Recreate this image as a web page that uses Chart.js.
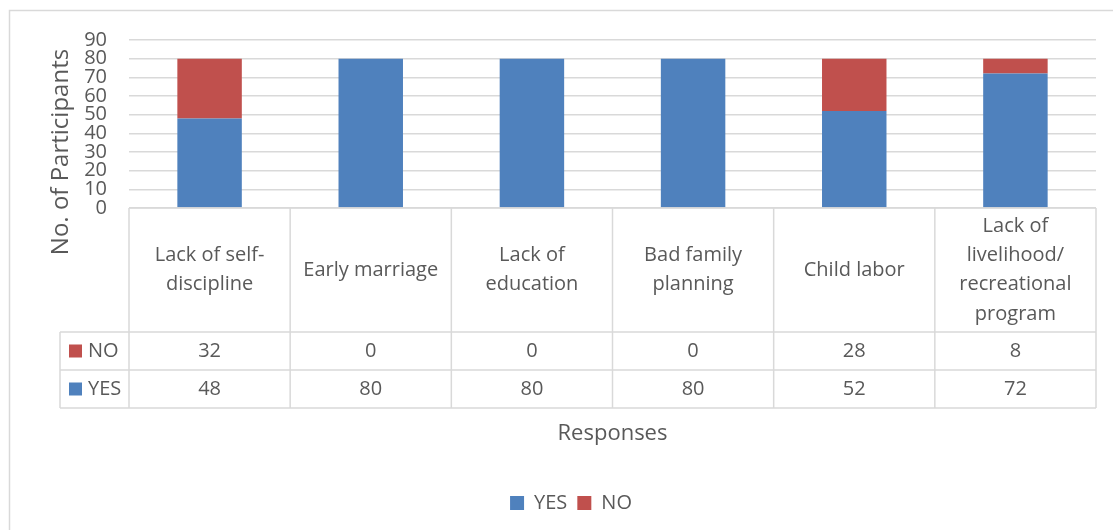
<!DOCTYPE html>
<html>
<head>
<meta charset="utf-8">
<script src="https://cdn.jsdelivr.net/npm/chart.js@4"></script>
<style>
  html, body { margin: 0; padding: 0; background: #fff; }
  #wrap { width: 1113px; height: 530px; }
</style>
</head>
<body>
<div id="wrap"><canvas id="chart"></canvas></div>
<script>
// categories (wrapped the way they show in the data table)
const categories = [
  ['Lack of self-', 'discipline'],
  ['Early marriage'],
  ['Lack of', 'education'],
  ['Bad family', 'planning'],
  ['Child labor'],
  ['Lack of', 'livelihood/', 'recreational', 'program']
];
const yesValues = [48, 80, 80, 80, 52, 72];
const noValues = [32, 0, 0, 0, 28, 8];
const yTicks = [0, 10, 20, 30, 40, 50, 60, 70, 80, 90];

const blue = '#4f81bd';
const red = '#c0504d';
const textColor = '#595959';
const lineColor = '#d9d9d9';
const fontFamily = '"Open Sans", sans-serif';

// frame, y title and the data table under the plot
const tablePlugin = {
  id: 'dataTable',
  beforeDraw(chart) {
    const c = chart.ctx;
    c.save();
    c.fillStyle = '#fff';
    c.fillRect(0, 0, chart.width, chart.height);
    c.strokeStyle = lineColor;
    c.lineWidth = 1.5;
    c.strokeRect(9.5, 10.5, 1120, 540);
    c.restore();
  },
  afterDraw(chart) {
    const c = chart.ctx;
    const x = chart.scales.x;
    const area = chart.chartArea;
    const colW = x.getPixelForValue(1) - x.getPixelForValue(0);
    const left = x.getPixelForValue(0) - colW / 2;
    const right = x.getPixelForValue(categories.length - 1) + colW / 2;
    const top = area.bottom;
    const headBottom = 332;
    const rowH = 38;
    const keyLeft = 60;

    c.save();
    c.strokeStyle = lineColor;
    c.lineWidth = 1.5;
    c.beginPath();
    c.moveTo(left, top); c.lineTo(right, top);
    for (let r = 0; r < 3; r++) {
      const yy = headBottom + r * rowH;
      c.moveTo(keyLeft, yy); c.lineTo(right, yy);
    }
    c.moveTo(keyLeft, headBottom); c.lineTo(keyLeft, headBottom + 2 * rowH);
    for (let i = 0; i <= categories.length; i++) {
      const xx = left + i * colW;
      c.moveTo(xx, top); c.lineTo(xx, headBottom + 2 * rowH);
    }
    c.stroke();

    c.fillStyle = textColor;
    c.font = '20px ' + fontFamily;
    c.textAlign = 'center';
    c.textBaseline = 'middle';
    const lh = 29.3;
    const headMid = (top + headBottom) / 2;
    categories.forEach((lines, i) => {
      const cx = x.getPixelForValue(i);
      const y0 = headMid - (lines.length - 1) * lh / 2;
      lines.forEach((t, j) => c.fillText(t, cx, y0 + j * lh));
      c.fillText(String(noValues[i]), cx, headBottom + rowH / 2);
      c.fillText(String(yesValues[i]), cx, headBottom + rowH * 1.5);
    });

    // series keys
    const keys = [['NO', red], ['YES', blue]];
    keys.forEach((k, r) => {
      const cy = headBottom + rowH * (r + 0.5);
      c.fillStyle = k[1];
      c.fillRect(69, cy - 6.5, 13, 13);
      c.fillStyle = textColor;
      c.textAlign = 'left';
      c.fillText(k[0], 88, cy);
    });

    // y axis title
    c.translate(61, 152);
    c.rotate(-Math.PI / 2);
    c.textAlign = 'center';
    c.font = '24px ' + fontFamily;
    c.fillText('No. of Participants', 0, 0);
    c.restore();
  }
};

const ctx = document.getElementById('chart').getContext('2d');
const chart = new Chart(ctx, {
  type: 'bar',
  data: {
    labels: categories.map(l => l.join(' ')),
    datasets: [{
      label: 'YES',
      data: yesValues,
      backgroundColor: blue,
      barPercentage: 0.4,
      categoryPercentage: 1
    },
    {
      label: 'NO',
      data: noValues,
      backgroundColor: red,
      barPercentage: 0.4,
      categoryPercentage: 1
    }]
  },
  options: {
    responsive: true,
    maintainAspectRatio: false,
    animation: false,
    layout: {
      padding: { top: 40, right: 17, bottom: 7, left: 46 }
    },
    plugins: {
      tooltip: { enabled: false },
      legend: {
        position: 'bottom',
        labels: {
          color: textColor,
          font: { size: 20, family: fontFamily },
          boxWidth: 14,
          boxHeight: 14,
          padding: 10
        }
      }
    },
    scales: {
      x: {
        stacked: true,
        grid: { display: false },
        border: { display: false },
        ticks: { display: false },
        title: {
          display: true,
          text: 'Responses',
          color: textColor,
          font: { size: 22, family: fontFamily },
          padding: { top: 0, bottom: 36 }
        },
        afterFit(s) { s.height = 275; }
      },
      y: {
        stacked: true,
        min: 0,
        max: 90,
        afterBuildTicks(s) { s.ticks = yTicks.map(v => ({ value: v })); },
        grid: { color: lineColor, lineWidth: 1.5, drawTicks: false },
        border: { display: false },
        ticks: {
          autoSkip: false,
          padding: 22,
          color: textColor,
          font: { size: 20, family: fontFamily }
        },
        afterFit(s) { s.width = 83; }
      }
    }
  },
  plugins: [tablePlugin]
});
</script>
</body>
</html>
